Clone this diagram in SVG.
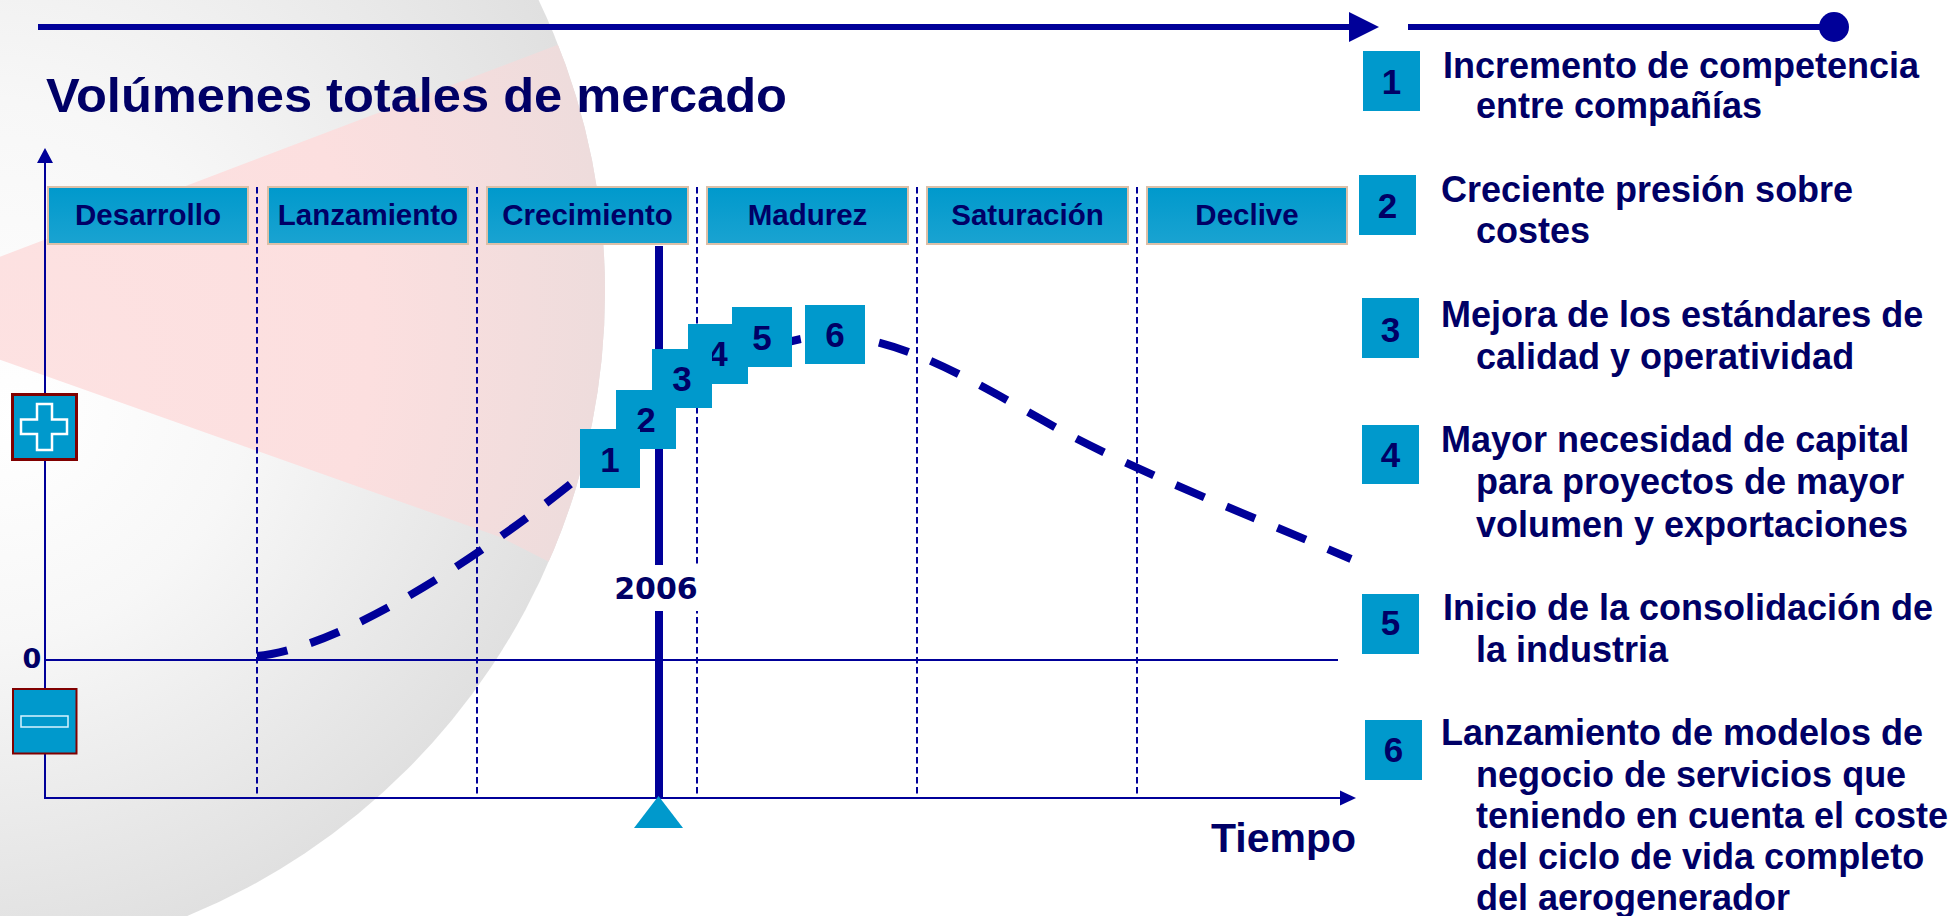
<svg xmlns="http://www.w3.org/2000/svg" width="1959" height="916" viewBox="0 0 1959 916">
<defs>
<radialGradient id="sphere" gradientUnits="userSpaceOnUse" cx="-70" cy="292" r="675" fx="20" fy="420">
<stop offset="0" stop-color="#ffffff"/>
<stop offset="0.4" stop-color="#f7f7f7"/>
<stop offset="1" stop-color="#e0e0e0"/>
</radialGradient>
<radialGradient id="pink" gradientUnits="userSpaceOnUse" cx="-70" cy="292" r="675" fx="20" fy="420">
<stop offset="0" stop-color="#fde2e2"/>
<stop offset="0.6" stop-color="#fcdfdf"/>
<stop offset="1" stop-color="#eedcdc"/>
</radialGradient>
<linearGradient id="phase" x1="0" y1="0" x2="0" y2="1">
<stop offset="0" stop-color="#0099cc"/>
<stop offset="1" stop-color="#1aa3d1"/>
</linearGradient>
<clipPath id="circ"><circle cx="-70" cy="292" r="675"/></clipPath>
</defs>
<style>
.t{font-family:"Liberation Sans",Arial,sans-serif;font-weight:bold;fill:#000066}
.v{font-family:"DejaVu Sans",Verdana,sans-serif;font-weight:bold;fill:#000066}
.ph{fill:url(#phase);stroke:#dcc0a8;stroke-width:2}
.ptx{font-size:29.5px;text-anchor:middle}
.nb{fill:#0099cc}
.ntx{font-size:35px;text-anchor:middle}
.lt{font-size:36px}
.dv{stroke:#000099;stroke-width:2;stroke-dasharray:6.5 3.5;fill:none}
.ax{stroke:#000099;stroke-width:2;fill:none}
.blue{fill:#000099}
</style>
<rect width="1959" height="916" fill="#ffffff"/>
<g id="background">
<circle cx="-70" cy="292" r="675" fill="url(#sphere)"/>
<polygon points="-140,310 333,130 900,-85 900,740 500,537" fill="url(#pink)" clip-path="url(#circ)"/>
</g>
<g id="timeline">
<line x1="38" y1="27" x2="1352" y2="27" stroke="#000099" stroke-width="6"/>
<polygon class="blue" points="1349,12 1379,27 1349,42"/>
<line x1="1408" y1="27" x2="1830" y2="27" stroke="#000099" stroke-width="6"/>
<circle class="blue" cx="1834" cy="27" r="15"/>
</g>
<g id="title">
<text class="t" x="46" y="112" font-size="48" textLength="741" lengthAdjust="spacingAndGlyphs">Volúmenes totales de mercado</text>
</g>
<g id="connectors">
<line class="dv" x1="257" y1="187" x2="257" y2="798"/>
<line class="dv" x1="477" y1="187" x2="477" y2="798"/>
<line class="dv" x1="697" y1="187" x2="697" y2="798"/>
<line class="dv" x1="917" y1="187" x2="917" y2="798"/>
<line class="dv" x1="1137" y1="187" x2="1137" y2="798"/>
<line class="ax" x1="45" y1="660" x2="1338" y2="660"/>
<line class="ax" x1="45" y1="798" x2="45" y2="160"/>
<polygon class="blue" points="37,163 53,163 45,148"/>
<line class="ax" x1="44" y1="798" x2="1342" y2="798"/>
<polygon class="blue" points="1340,790.5 1356,798 1340,805.5"/>
<line x1="659" y1="246" x2="659" y2="798" stroke="#000099" stroke-width="8"/>
<path id="curve" d="M257,656 C340,648 480,560 600,460 C660,410 745,337 830,336 C900,335 980,385 1060,430 C1150,478 1250,515 1351,559" fill="none" stroke="#000099" stroke-width="8" stroke-dasharray="31 24"/>
</g>
<g id="phases">
<g id="phase-desarrollo"><rect class="ph" x="48" y="187" width="200" height="57"/><text class="t ptx" x="148" y="225">Desarrollo</text></g>
<g id="phase-lanzamiento"><rect class="ph" x="268" y="187" width="200" height="57"/><text class="t ptx" x="368" y="225">Lanzamiento</text></g>
<g id="phase-crecimiento"><rect class="ph" x="487" y="187" width="201" height="57"/><text class="t ptx" x="587.5" y="225">Crecimiento</text></g>
<g id="phase-madurez"><rect class="ph" x="707" y="187" width="201" height="57"/><text class="t ptx" x="807.5" y="225">Madurez</text></g>
<g id="phase-saturacion"><rect class="ph" x="927" y="187" width="201" height="57"/><text class="t ptx" x="1027.5" y="225">Saturación</text></g>
<g id="phase-declive"><rect class="ph" x="1147" y="187" width="200" height="57"/><text class="t ptx" x="1247" y="225">Declive</text></g>
</g>
<g id="year-2006">
<rect x="608" y="565" width="93" height="46" fill="#ffffff"/>
<text class="v" x="656" y="599" font-size="30" text-anchor="middle">2006</text>
<polygon fill="#0099cc" points="634,828 683,828 658.5,796"/>
</g>
<g id="curve-markers">
<g id="m6"><rect class="nb" x="805" y="305" width="60" height="59"/><text class="t ntx" x="835" y="347">6</text></g>
<g id="m5"><rect class="nb" x="732" y="307" width="60" height="60"/><text class="t ntx" x="762" y="350">5</text></g>
<g id="m4"><rect class="nb" x="688" y="324" width="60" height="60"/><text class="t ntx" x="718" y="366">4</text></g>
<g id="m3"><rect class="nb" x="652" y="349" width="60" height="59"/><text class="t ntx" x="682" y="391">3</text></g>
<g id="m2"><rect class="nb" x="616" y="390" width="60" height="59"/><text class="t ntx" x="646" y="432">2</text></g>
<g id="m1"><rect class="nb" x="580" y="429" width="60" height="59"/><text class="t ntx" x="610" y="472">1</text></g>
</g>
<g id="plus-box">
<rect x="12.5" y="394.5" width="64" height="65" fill="#0099cc" stroke="#800000" stroke-width="3"/>
<polygon points="37,404 52,404 52,419.5 67,419.5 67,434 52,434 52,450 37,450 37,434 21,434 21,419.5 37,419.5" fill="#0099cc" stroke="#ffffff" stroke-width="2.5"/>
</g>
<g id="minus-box">
<rect x="13" y="689" width="63.5" height="64.5" fill="#0099cc" stroke="#800000" stroke-width="2"/>
<rect x="21" y="716" width="47" height="11" fill="#0099cc" stroke="#d8f4ff" stroke-width="1.5"/>
</g>
<g id="axis-labels">
<text class="v" x="32" y="668" font-size="27" text-anchor="middle">0</text>
<text class="t" x="1356" y="852" font-size="41" text-anchor="end">Tiempo</text>
</g>
<g id="list">
<g id="item1"><rect class="nb" x="1363" y="51" width="57" height="60"/><text class="t ntx" x="1391.5" y="93.5">1</text>
<text class="t lt" x="1443" y="78">Incremento de competencia</text><text class="t lt" x="1476" y="118">entre compañías</text></g>
<g id="item2"><rect class="nb" x="1359" y="175" width="57" height="60"/><text class="t ntx" x="1387.5" y="218">2</text>
<text class="t lt" x="1441" y="202">Creciente presión sobre</text><text class="t lt" x="1476" y="243">costes</text></g>
<g id="item3"><rect class="nb" x="1362" y="298" width="57" height="60"/><text class="t ntx" x="1390.5" y="341.5">3</text>
<text class="t lt" x="1441" y="327">Mejora de los estándares de</text><text class="t lt" x="1476" y="369">calidad y operatividad</text></g>
<g id="item4"><rect class="nb" x="1362" y="425" width="57" height="59"/><text class="t ntx" x="1390.5" y="467">4</text>
<text class="t lt" x="1441" y="452">Mayor necesidad de capital</text><text class="t lt" x="1476" y="494">para proyectos de mayor</text><text class="t lt" x="1476" y="537">volumen y exportaciones</text></g>
<g id="item5"><rect class="nb" x="1362" y="594" width="57" height="60"/><text class="t ntx" x="1390.5" y="635">5</text>
<text class="t lt" x="1443" y="620">Inicio de la consolidación de</text><text class="t lt" x="1476" y="662">la industria</text></g>
<g id="item6"><rect class="nb" x="1365" y="720" width="57" height="60"/><text class="t ntx" x="1393.5" y="761.5">6</text>
<text class="t lt" x="1441" y="745">Lanzamiento de modelos de</text><text class="t lt" x="1476" y="787">negocio de servicios que</text><text class="t lt" x="1476" y="828">teniendo en cuenta el coste</text><text class="t lt" x="1476" y="869">del ciclo de vida completo</text><text class="t lt" x="1476" y="910">del aerogenerador</text></g>
</g>
</svg>
